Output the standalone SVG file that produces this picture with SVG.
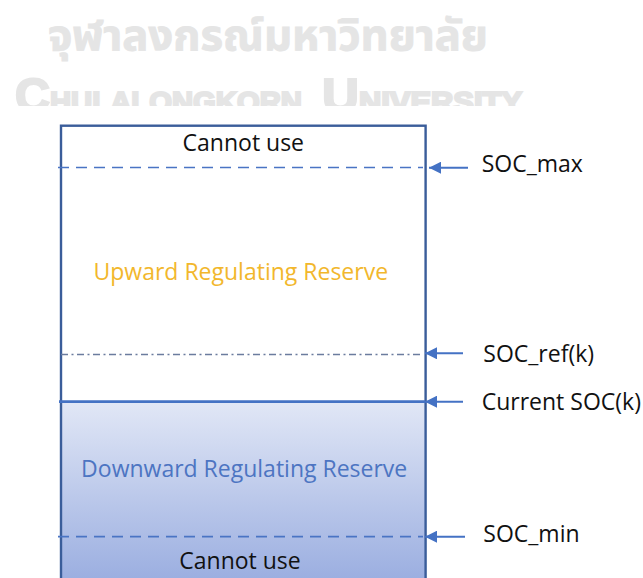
<svg xmlns="http://www.w3.org/2000/svg" width="643" height="578" viewBox="0 0 643 578">
  <style>
    .lbl { font-family: "Open Sans", "Noto Sans", sans-serif; font-size: 23px; fill: #111111; }
    .wm { fill: #e5e5e5; font-weight: bold; }
    .lvl { fill: none; stroke: #4a74c4; stroke-width: 1.7; stroke-dasharray: 11 7; }
    .arr { stroke: #4472c4; stroke-width: 1.9; fill: none; marker-end: url(#ah); }
  </style>
  <defs>
    <linearGradient id="down" x1="0" y1="402" x2="0" y2="590" gradientUnits="userSpaceOnUse">
      <stop offset="0" stop-color="#e1e7f6"/>
      <stop offset="1" stop-color="#97abdf"/>
    </linearGradient>
    <marker id="ah" viewBox="0 0 10 10" refX="10" refY="5" markerWidth="14" markerHeight="12" markerUnits="userSpaceOnUse" orient="auto">
      <path d="M0,0 L10,5 L0,10 Z" fill="#4472c4"/>
    </marker>
    <clipPath id="wmclip">
      <rect x="0" y="0" width="643" height="106"/>
    </clipPath>
  </defs>

  <rect width="643" height="578" fill="#ffffff"/>

  <!-- watermark -->
  <g id="watermark" class="wm" clip-path="url(#wmclip)">
    <text x="48" y="50" font-family="'Noto Sans Thai', 'Noto Sans', sans-serif" font-size="42" textLength="440" lengthAdjust="spacingAndGlyphs" stroke="#e5e5e5" stroke-width="0.8">จุฬาลงกรณ์มหาวิทยาลัย</text>
    <text x="15" y="112" font-family="'Liberation Sans', Arial, sans-serif" textLength="287" lengthAdjust="spacingAndGlyphs" stroke="#e5e5e5" stroke-width="2.2"><tspan font-size="48">C</tspan><tspan font-size="29">HULALONGKORN</tspan></text>
    <text x="322" y="112" font-family="'Liberation Sans', Arial, sans-serif" textLength="200" lengthAdjust="spacingAndGlyphs" stroke="#e5e5e5" stroke-width="2.2"><tspan font-size="48">U</tspan><tspan font-size="29">NIVERSITY</tspan></text>
  </g>

  <!-- storage column -->
  <g id="battery">
    <rect x="61" y="402" width="364.6" height="190" fill="url(#down)"/>
    <rect x="61" y="125.7" width="364.6" height="466" fill="none" stroke="#3a5d9a" stroke-width="2.4"/>
  </g>

  <g id="levels">
    <line id="soc-max-line" class="lvl" x1="58" y1="167.5" x2="423" y2="167.5"/>
    <line id="soc-ref-line" x1="61" y1="354.5" x2="423" y2="354.5" stroke="#6b7c9e" stroke-width="1.7" stroke-dasharray="7 3.5 2 3.5"/>
    <line id="soc-cur-line" x1="59" y1="401.7" x2="425" y2="401.7" stroke="#4472c4" stroke-width="2.8"/>
    <line id="soc-min-line" class="lvl" x1="58" y1="536.7" x2="423" y2="536.7"/>
  </g>

  <g id="regions">
    <text class="lbl" x="243.3" y="151" text-anchor="middle">Cannot use</text>
    <text class="lbl" x="240.8" y="279.5" text-anchor="middle" style="fill:#f2b72c">Upward Regulating Reserve</text>
    <text class="lbl" x="244.2" y="477" text-anchor="middle" style="fill:#4d75c2">Downward Regulating Reserve</text>
    <text class="lbl" x="240" y="569" text-anchor="middle">Cannot use</text>
  </g>

  <g id="connectors">
    <line class="arr" x1="468" y1="167.7" x2="429" y2="167.7"/>
    <line class="arr" x1="463" y1="353.3" x2="425" y2="353.3"/>
    <line class="arr" x1="463" y1="401.7" x2="425" y2="401.7"/>
    <line class="arr" x1="465" y1="536.7" x2="425" y2="536.7"/>
  </g>

  <g id="soc-max"><text class="lbl" x="481.7" y="172">SOC_max</text></g>
  <g id="soc-ref"><text class="lbl" x="483.3" y="361.5">SOC_ref(k)</text></g>
  <g id="soc-current"><text class="lbl" x="481.7" y="409.5">Current SOC(k)</text></g>
  <g id="soc-min"><text class="lbl" x="483.3" y="541.7">SOC_min</text></g>
</svg>
